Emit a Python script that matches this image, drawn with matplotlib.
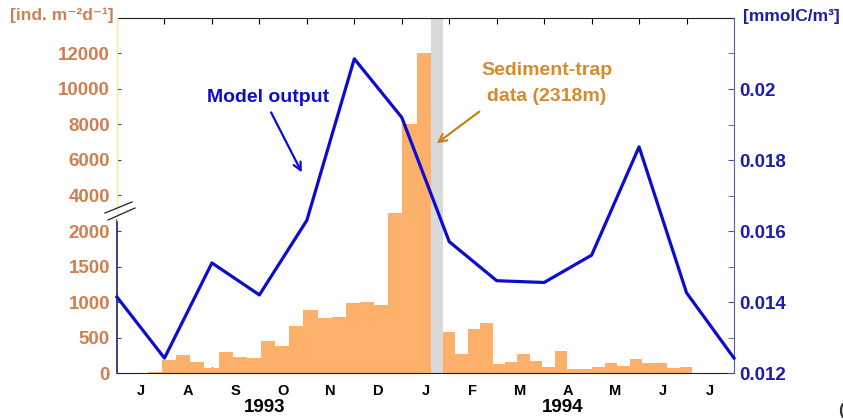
import numpy as np
import matplotlib
matplotlib.use('Agg')
import matplotlib.pyplot as plt
from matplotlib.lines import Line2D

# ---------------- data ----------------
months = ['J', 'A', 'S', 'O', 'N', 'D', 'J', 'F', 'M', 'A', 'M', 'J', 'J']
years = ['1993', '1994']

# model output at month boundaries (Jul 1993 ... Jul 1994), mmolC/m3
model_output = [0.01414, 0.01242, 0.0151, 0.0142, 0.0163, 0.02085, 0.0192,
                0.0157, 0.0146, 0.01455, 0.01532, 0.01837, 0.01426, 0.01242]

# sediment-trap fluxes, ind. m-2 d-1
trap_1993 = [20, 183, 250, 155, 70, 295, 225, 210, 450, 380, 660, 890, 775,
             790, 985, 1000, 960, 3000, 8000, 12000]
trap_1994 = [575, 270, 620, 700, 125, 155, 265, 170, 85, 310, 55, 55, 85,
             140, 100, 195, 145, 145, 70, 90]

# sampling design (months since 1 Jul 1993)
trap_1993_start, trap_1993_step = 0.65, 0.298
trap_1994_start, trap_1994_step = 6.86, 0.263
gap_period = (6.61, 6.86)

left_ticks = [0, 500, 1000, 1500, 2000, 4000, 6000, 8000, 10000, 12000]
right_ticks = [0.012, 0.014, 0.016, 0.018, 0.02]
right_minor = [0.013, 0.015, 0.017, 0.019, 0.021]

# ---------------- style ----------------
plt.rcParams['font.family'] = ['Liberation Sans', 'DejaVu Sans']
plt.rcParams['font.weight'] = 'bold'

ORANGE_BAR = '#fdb06a'
ORANGE_TXT = '#d08050'
ORANGE_NOTE = '#d68b2a'
BLUE_LINE = '#0c0cd0'
BLUE_TXT = '#1e1ea8'


def fwd(v):
    v = np.asarray(v, dtype=float)
    return np.where(v <= 2000, v, 2000 + (v - 2000) / 4.0)


def inv(t):
    t = np.asarray(t, dtype=float)
    return np.where(t <= 2000, t, 2000 + (t - 2000) * 4.0)


fig = plt.figure(figsize=(8.43, 4.19), dpi=100)
ax = fig.add_axes([117 / 843, 1 - 373 / 419, (734 - 117) / 843, (373 - 18) / 419])
ax.set_yscale('function', functions=(fwd, inv))
ax.set_ylim(0, 14000)
ax.set_xlim(0, 13)

# gap band
ax.axvspan(gap_period[0], gap_period[1], color='#d9d9d9', lw=0, zorder=1)

# bars
x93 = trap_1993_start + trap_1993_step * np.arange(len(trap_1993))
x94 = trap_1994_start + trap_1994_step * np.arange(len(trap_1994))
ax.bar(x93, trap_1993, width=trap_1993_step, align='edge', color=ORANGE_BAR, lw=0, zorder=2)
ax.bar(x94, trap_1994, width=trap_1994_step, align='edge', color=ORANGE_BAR, lw=0, zorder=2)

# left axis ticks
ax.set_yticks(left_ticks)
ax.set_yticklabels([str(v) for v in left_ticks])
ax.yaxis.set_minor_locator(matplotlib.ticker.NullLocator())
ax.tick_params(axis='y', direction='in', length=3, pad=5, labelsize=13.5,
               labelcolor=ORANGE_TXT, color='#404080')

# x axis: month boundaries as major ticks, labels at month centres
ax.set_xticks(np.arange(1, 13))
ax.set_xticklabels([])
ax.set_xticks(np.arange(len(months)) + 0.5, minor=True)
ax.set_xticklabels(months, minor=True)
ax.tick_params(axis='x', which='major', direction='in', length=4, top=True, bottom=True, color='black')
ax.tick_params(axis='x', which='minor', length=0, pad=8, labelsize=10.5, labelcolor='black')

for sp in ['left', 'right']:
    ax.spines[sp].set_visible(False)
ax.spines['top'].set_color('#202020')
ax.spines['bottom'].set_color('#202020')

# left spine: dark below break, faint above
ax.plot([0, 0], [0, 2600], color='#30307a', lw=1.3, clip_on=False, zorder=5)
ax.plot([0, 0], [2600, 14000], color='#f2e6a8', lw=1.0, clip_on=False, zorder=5)

# right axis with model output
ax2 = ax.twinx()
ax2.set_ylim(0.012, 0.022)
ax2.plot(np.arange(len(model_output)), model_output, color=BLUE_LINE, lw=2.3,
         clip_on=False, zorder=4)
ax2.set_yticks(right_ticks)
ax2.set_yticklabels(['0.012', '0.014', '0.016', '0.018', '0.02'])
ax2.set_yticks(right_minor, minor=True)
ax2.tick_params(axis='y', which='both', direction='in', length=4, pad=4,
                labelsize=13.5, labelcolor=BLUE_TXT, color='#5050a0')
for sp in ['left', 'top', 'bottom']:
    ax2.spines[sp].set_visible(False)
ax2.spines['right'].set_color('#5a5aa8')

# axis break marks
for (x0, y0, x1, y1) in [(105, 213, 132, 202), (108, 220, 135, 208)]:
    fig.add_artist(Line2D([x0 / 843, x1 / 843], [1 - y0 / 419, 1 - y1 / 419],
                          color='#202020', lw=0.9))

# year labels
ax.text(3.12, -0.098, years[0], transform=ax.get_xaxis_transform(), ha='center',
        va='center', fontsize=13.5, fontweight='bold', color='black')
ax.text(9.39, -0.098, years[1], transform=ax.get_xaxis_transform(), ha='center',
        va='center', fontsize=13.5, fontweight='bold', color='black')

# unit labels
fig.text(62 / 843, 1 - 15 / 419, '[ind. m\u207b\u00b2d\u207b\u00b9]', ha='center', va='center',
         fontsize=12.5, fontweight='bold', color=ORANGE_TXT)
fig.text(791 / 843, 1 - 16 / 419, '[mmolC/m\u00b3]', ha='center', va='center',
         fontsize=12.5, fontweight='bold', color=BLUE_TXT)
fig.text(838 / 843, 1 - 410 / 419, '(', ha='left', va='center', fontsize=12, color='#333333')

# annotations
ax2.annotate('', xy=(3.92, 0.01758), xytext=(3.22, 0.01941),
             arrowprops=dict(arrowstyle='->', color=BLUE_LINE, lw=1.6,
                             mutation_scale=14), zorder=6)
ax2.text(3.18, 0.01975, 'Model output', ha='center', va='center', fontsize=14,
         fontweight='bold', color=BLUE_LINE)

ax2.annotate('', xy=(6.69, 0.018423), xytext=(7.68, 0.019408),
             arrowprops=dict(arrowstyle='->', color='#c8801f', lw=1.6,
                             mutation_scale=14), zorder=6)
ax2.text(9.05, 0.020535, 'Sediment-trap', ha='center', va='center', fontsize=14,
         fontweight='bold', color=ORANGE_NOTE)
ax2.text(9.05, 0.019775, 'data (2318m)', ha='center', va='center', fontsize=14,
         fontweight='bold', color=ORANGE_NOTE)

fig.savefig('out.png', dpi=100)
